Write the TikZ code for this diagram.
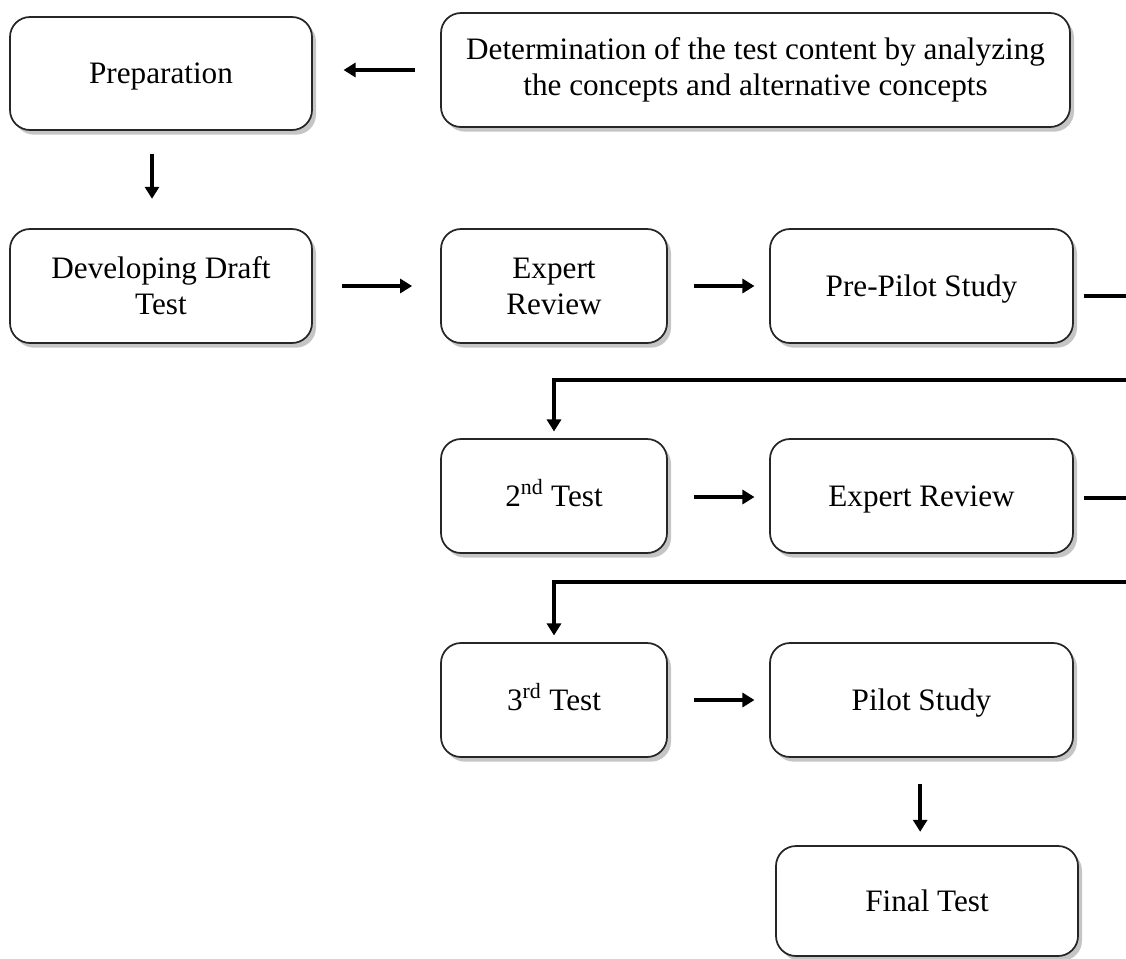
\documentclass[tikz,border=0pt]{standalone}
\usepackage{fontspec}
\setmainfont{Liberation Serif}
\usetikzlibrary{arrows.meta,shadows}
\begin{document}
\begin{tikzpicture}[x=0.75pt,y=-0.75pt,
  box/.style={draw=black!85, line width=1.3pt, rounded corners=15pt, fill=white,
    align=center, inner sep=0pt,
    font=\fontsize{23.4pt}{27pt}\selectfont,
    drop shadow={shadow xshift=3pt, shadow yshift=-3.5pt, fill=black!45, opacity=0.5}},
  one/.style={text height=17.5pt, text depth=2.1pt},
  arr/.style={line width=2.6pt, -{Triangle[length=9pt,width=10.5pt]}},
  ln/.style={line width=2.6pt}]
\useasboundingbox (0,0) rectangle (1126,958);

\node[box, one, minimum width=226.5pt, minimum height=84.75pt] (prep) at (161,73.5) {Preparation};
\node[box, minimum width=471.75pt, minimum height=85.5pt] (det) at (755.5,70) {Determination of the test content by analyzing\\the concepts and alternative concepts};
\node[box, minimum width=226.5pt, minimum height=85.5pt] (dev) at (161,286) {Developing Draft\\Test};
\node[box, minimum width=169.5pt, minimum height=85.5pt] (exp1) at (554,286) {Expert\\Review};
\node[box, one, minimum width=227.25pt, minimum height=85.5pt] (pp) at (921.5,286) {Pre-Pilot Study};
\node[box, one, minimum width=169.5pt, minimum height=85.5pt] (t2) at (554,496) {2\textsuperscript{nd} Test};
\node[box, one, minimum width=227.25pt, minimum height=85.5pt] (exp2) at (921.5,496) {Expert Review};
\node[box, one, minimum width=169.5pt, minimum height=85.5pt] (t3) at (554,700) {3\textsuperscript{rd} Test};
\node[box, one, minimum width=227.25pt, minimum height=85.5pt] (pilot) at (921.5,700) {Pilot Study};
\node[box, one, minimum width=226.5pt, minimum height=82.5pt] (final) at (927,901) {Final Test};

\coordinate (e1) at (1126,296);
\coordinate (r1) at (1126,380);
\coordinate (e2) at (1126,498);
\coordinate (r2) at (1126,582);

% connectors
\draw[arr, shorten <=18.75pt, shorten >=23pt] (det.west) -- (det.west -| prep.east);
\draw[arr, shorten <=17pt, shorten >=22pt] ([xshift=-6.75pt]prep.south) -- ([xshift=-6.75pt]dev.north);
\draw[arr, shorten <=22pt, shorten >=21pt] (dev.east) -- (exp1.west);
\draw[arr, shorten <=19.5pt, shorten >=11pt] (exp1.east) -- (pp.west);
\draw[ln, shorten <=7.5pt] ([yshift=-7.5pt]pp.east) -- ([yshift=-7.5pt]pp.east -| e1);
\draw[arr, shorten >=5pt] (r1) -- (r1 -| t2.north) -- (t2.north);
\draw[arr, shorten <=19.5pt, shorten >=11pt] ([yshift=-0.75pt]t2.east) -- ([yshift=-0.75pt]exp2.west);
\draw[ln, shorten <=7.5pt] ([yshift=-1.5pt]exp2.east) -- ([yshift=-1.5pt]exp2.east -| e2);
\draw[arr, shorten >=5pt] (r2) -- (r2 -| t3.north) -- (t3.north);
\draw[arr, shorten <=19.5pt, shorten >=11pt] (t3.east) -- (pilot.west);
\draw[arr, shorten <=19.5pt, shorten >=10pt] ([xshift=-1pt]pilot.south) -- ([xshift=-1pt]pilot.south |- final.north);
\end{tikzpicture}
\end{document}
